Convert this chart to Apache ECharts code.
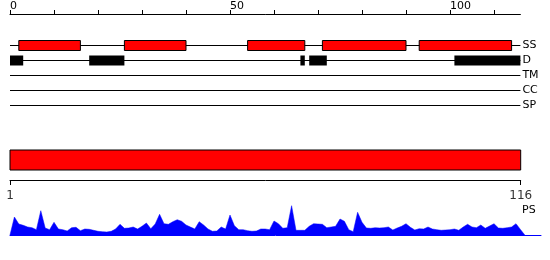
<!DOCTYPE html>
<html><head><meta charset="utf-8">
<script src="https://cdn.jsdelivr.net/npm/echarts@6/dist/echarts.min.js"></script>
<style>html,body{margin:0;padding:0;background:#fff}#c{width:550px;height:260px}</style>
</head><body><div id="c"></div>
<script>
// ---- data ----
const trackNames = ['SS', 'D', 'TM', 'CC', 'SP'];
const ssSegments = [[2, 16], [26, 40], [54, 67], [71, 90], [93, 114]];
const dSegments = [[0, 3], [18, 26], [66, 67], [68, 72], [101, 116]];
const rulerMax = 116;
const rulerTicks = [0, 10, 20, 30, 40, 50, 60, 70, 80, 90, 100, 110];
const rulerLabels = [0, 50, 100];
const domainRange = [1, 116];
const domainTickLabels = [1, 116];
const psLabel = 'PS';
const psValues = [
  0, 18, 11, 9.7, 8, 7.3, 5.3, 24.3, 7, 5.3,
  12.7, 6, 5.3, 4, 7.3, 7.7, 4.3, 6, 5.7, 4.7,
  3.7, 3.3, 3, 3.7, 6, 10.7, 6.7, 7, 8, 6,
  8.7, 12, 6.3, 11, 20.7, 11.3, 10.7, 13.3, 15.3, 13.7,
  10, 8, 6, 13.3, 10, 6, 3.7, 4, 8, 6,
  20, 9.3, 5.3, 5.3, 4.3, 3.7, 4, 6, 6, 5.3,
  14, 11.3, 6.7, 7.3, 29.3, 4.7, 4.7, 4.7, 8.7, 11.3,
  11, 10.7, 7.3, 8, 8.7, 16, 13.7, 5.3, 3.3, 22.7,
  12.7, 7, 6.7, 7.3, 7, 7.3, 8, 5, 7, 8.7,
  11.3, 7.7, 5, 6.3, 6, 8, 6, 5.3, 4.7, 5,
  5.3, 6, 4.7, 8, 10.7, 8, 7.3, 10, 6.7, 9,
  11.3, 7, 6.7, 7.3, 8, 11.3, 5.5, 0
];

// ---- chart ----
const FONT = 'DejaVu Sans';
const chart = echarts.init(document.getElementById('c'), null, { renderer: 'canvas' });

const lineData = trackNames.map((n, i) => [0, rulerMax, i]);
const ssData = ssSegments.map(s => [s[0], s[1], 0]);
const dData = dSegments.map(s => [s[0], s[1], 1]);

function lineItem(params, api) {
  const p1 = api.coord([api.value(0), api.value(2)]);
  const p2 = api.coord([api.value(1), api.value(2)]);
  return { type: 'line', shape: { x1: p1[0], y1: p1[1], x2: p2[0], y2: p2[1] },
    style: { stroke: '#000', lineWidth: 1 } };
}
function boxItem(fill, stroke) {
  return function (params, api) {
    const p1 = api.coord([api.value(0), api.value(2)]);
    const p2 = api.coord([api.value(1), api.value(2)]);
    return { type: 'rect', shape: { x: p1[0], y: p1[1] - 5, width: p2[0] - p1[0], height: 10 },
      style: { fill: fill, stroke: stroke, lineWidth: stroke ? 1 : 0 } };
  };
}

const option = {
  animation: false,
  backgroundColor: '#fff',
  grid: [
    { left: 10, top: 38, width: 510.4, height: 75 },
    { left: 10, top: 150, width: 510.7, height: 30 },
    { left: 10, top: 200, width: 531, height: 35 }
  ],
  xAxis: [
    { gridIndex: 0, type: 'value', min: 0, max: rulerMax, position: 'top', offset: 24,
      splitLine: { show: false },
      axisLine: { show: true, lineStyle: { color: '#000', width: 1 } },
      axisTick: { show: true, length: 4, customValues: rulerTicks, lineStyle: { color: '#000' } },
      axisLabel: { show: true, customValues: rulerLabels, align: 'left', margin: 2,
        fontFamily: FONT, fontSize: 11, color: '#000' } },
    { gridIndex: 1, type: 'value', min: domainRange[0], max: domainRange[1], position: 'bottom',
      splitLine: { show: false },
      axisLine: { show: true, onZero: false, lineStyle: { color: '#000', width: 1 } },
      axisTick: { show: true, length: 5, customValues: domainTickLabels, lineStyle: { color: '#000' } },
      axisLabel: { show: true, customValues: domainTickLabels, margin: 10,
        fontFamily: FONT, fontSize: 12, color: '#333' } },
    { gridIndex: 2, type: 'value', min: 0, max: 120.68,
      splitLine: { show: false },
      axisLine: { show: true, lineStyle: { color: '#0000ff', width: 1 } },
      axisTick: { show: false }, axisLabel: { show: false } }
  ],
  yAxis: [
    { gridIndex: 0, type: 'category', data: trackNames, inverse: true, position: 'right',
      axisLine: { show: false }, axisTick: { show: false }, splitLine: { show: false },
      axisLabel: { margin: 2, fontFamily: FONT, fontSize: 11, color: '#000' } },
    { gridIndex: 1, type: 'value', min: 0, max: 3, show: false },
    { gridIndex: 2, type: 'value', min: 0, max: 35, show: false }
  ],
  graphic: [
    { type: 'text', left: 522, top: 205,
      style: { text: psLabel, font: '11px "' + FONT + '"', fill: '#000' } }
  ],
  series: [
    { type: 'custom', xAxisIndex: 0, yAxisIndex: 0, renderItem: lineItem, data: lineData, z: 1 },
    { type: 'custom', xAxisIndex: 0, yAxisIndex: 0, renderItem: boxItem('#ff0000', '#000'), data: ssData, z: 2 },
    { type: 'custom', xAxisIndex: 0, yAxisIndex: 0, renderItem: boxItem('#000', null), data: dData, z: 2 },
    { type: 'custom', xAxisIndex: 1, yAxisIndex: 1, data: [[domainRange[0], domainRange[1]]],
      renderItem: function (params, api) {
        const p1 = api.coord([api.value(0), 3]);
        const p2 = api.coord([api.value(1), 1]);
        return { type: 'rect', shape: { x: p1[0], y: p1[1], width: p2[0] - p1[0], height: p2[1] - p1[1] },
          style: { fill: '#ff0000', stroke: '#000', lineWidth: 1 } };
      } },
    { type: 'line', xAxisIndex: 2, yAxisIndex: 2, symbol: 'none', smooth: false,
      data: psValues.map((v, i) => [i, v]),
      lineStyle: { color: '#0000ff', width: 0.5 },
      areaStyle: { color: '#0000ff', opacity: 1 } }
  ]
};
chart.setOption(option);
</script>
</body></html>
